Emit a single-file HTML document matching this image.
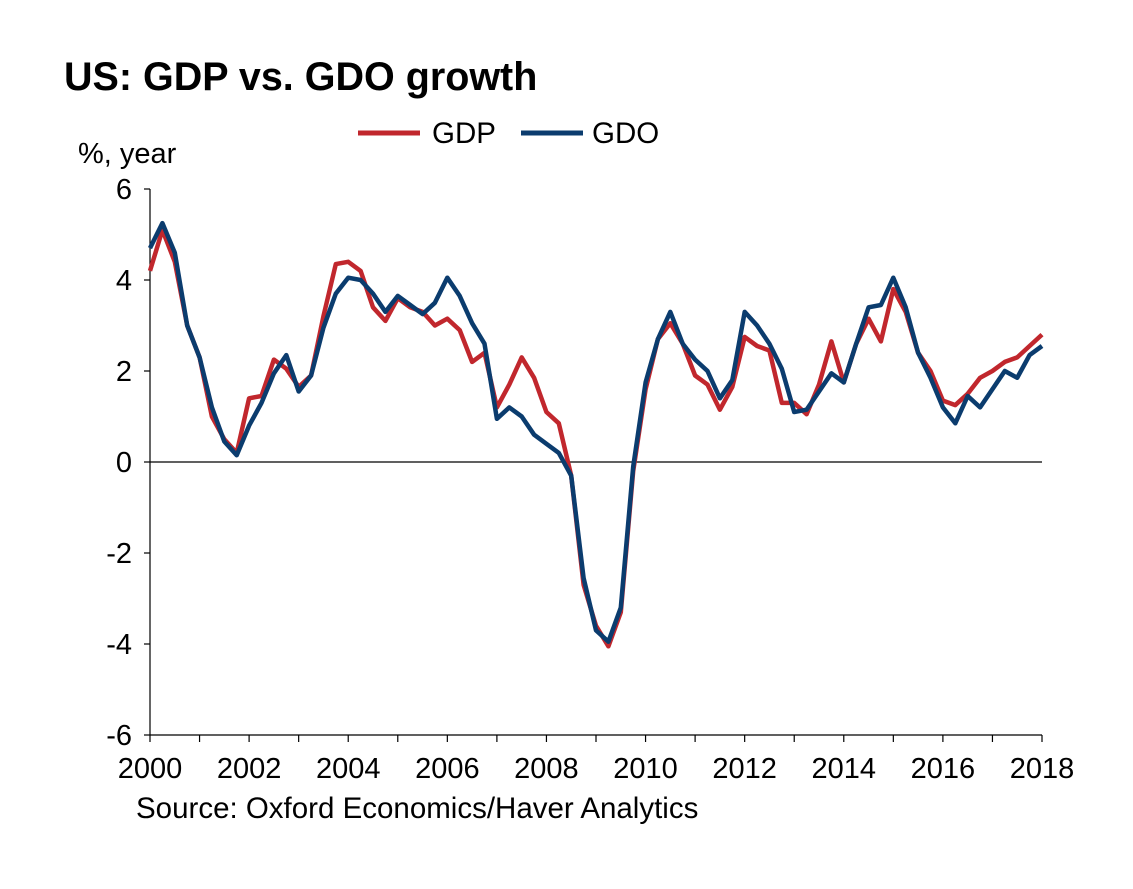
<!DOCTYPE html>
<html><head><meta charset="utf-8"><style>
body{margin:0;background:#fff;}
svg text{font-family:"Liberation Sans",Arial,sans-serif;fill:#000;}
</style></head><body>
<svg id="chart" width="1133" height="884" xmlns="http://www.w3.org/2000/svg">
<text x="64" y="90" font-size="39.5" font-weight="bold">US: GDP vs. GDO growth</text>
<g>
<line x1="358" y1="133" x2="420" y2="133" stroke="#c1272d" stroke-width="5"/>
<text x="432" y="143" font-size="29.5">GDP</text>
<line x1="521" y1="133" x2="583" y2="133" stroke="#0b3c6e" stroke-width="5"/>
<text x="592" y="143" font-size="29.5">GDO</text>
</g>
<text x="78" y="163" font-size="29">%, year</text>
<g id="axes"></g>
<g id="series"></g>
<text x="136" y="818" font-size="29.5">Source: Oxford Economics/Haver Analytics</text>
</svg>
<script>
const yTicks=[6,4,2,0,-2,-4,-6];
const xYears=[2000,2002,2004,2006,2008,2010,2012,2014,2016,2018];
const gdp=[4.2,5.1,4.4,3.0,2.3,1.0,0.5,0.2,1.4,1.45,2.25,2.05,1.65,1.9,3.2,4.35,4.4,4.2,3.4,3.1,3.6,3.4,3.3,3.0,3.15,2.9,2.2,2.4,1.2,1.7,2.3,1.85,1.1,0.85,-0.3,-2.7,-3.6,-4.05,-3.3,-0.2,1.6,2.7,3.05,2.6,1.9,1.7,1.15,1.65,2.75,2.55,2.45,1.3,1.3,1.05,1.7,2.65,1.75,2.6,3.15,2.65,3.8,3.3,2.4,2.0,1.35,1.25,1.5,1.85,2.0,2.2,2.3,2.55,2.8];
const gdo=[4.7,5.25,4.6,3.0,2.3,1.2,0.45,0.15,0.8,1.3,1.95,2.35,1.55,1.9,2.95,3.7,4.05,4.0,3.7,3.3,3.65,3.45,3.25,3.5,4.05,3.65,3.05,2.6,0.95,1.2,1.0,0.6,0.4,0.2,-0.3,-2.55,-3.7,-3.95,-3.2,-0.1,1.75,2.7,3.3,2.6,2.25,2.0,1.4,1.8,3.3,3.0,2.6,2.05,1.1,1.15,1.55,1.95,1.75,2.6,3.4,3.45,4.05,3.4,2.4,1.85,1.2,0.85,1.45,1.2,1.6,2.0,1.85,2.35,2.55];
const NS="http://www.w3.org/2000/svg";
const x0=150,x1=1042,yTop=189,yBot=735;
const xs=t=>x0+(t-2000)/18*(x1-x0);
const ys=v=>yTop+(6-v)/12*(yBot-yTop);
function mk(tag,attrs,parent){const e=document.createElementNS(NS,tag);for(const k in attrs)e.setAttribute(k,attrs[k]);parent.appendChild(e);return e;}
const axes=document.getElementById('axes');
let e=mk('line',{x1:x0,y1:yTop,x2:x0,y2:yBot,stroke:'#000','stroke-width':1.2},axes);


e=mk('line',{x1:x0,y1:ys(0),x2:x1,y2:ys(0),stroke:'#000','stroke-width':1.2},axes);


e=mk('line',{x1:x0,y1:yBot,x2:x1,y2:yBot,stroke:'#000','stroke-width':1.2},axes);


yTicks.forEach(v=>{
 let t=mk('line',{x1:x0-6,y1:ys(v),x2:x0,y2:ys(v),stroke:'#000','stroke-width':1.2},axes);
 
 
 let l=mk('text',{x:x0-18,y:ys(v)+10,'font-size':29,'text-anchor':'end'},axes);
 l.textContent=v;
 
 
});
for(let yr=2000;yr<=2018;yr++){
 let t=mk('line',{x1:xs(yr),y1:yBot,x2:xs(yr),y2:yBot+7,stroke:'#000','stroke-width':1.2},axes);
 
 
}
xYears.forEach(yr=>{
 let l=mk('text',{x:xs(yr),y:yBot+43,'font-size':29,'text-anchor':'middle'},axes);
 l.textContent=yr;
 
 
});
const ser=document.getElementById('series');
function line(arr,color,name){
 const pts=arr.map((v,i)=>xs(2000+i/4).toFixed(1)+','+ys(v).toFixed(1)).join(' ');
 const p=mk('polyline',{points:pts,fill:'none',stroke:color,'stroke-width':4.5,'stroke-linejoin':'round'},ser);
 
 
}
line(gdp,'#c1272d','gdp-line');
line(gdo,'#0b3c6e','gdo-line');
</script>
</body></html>
